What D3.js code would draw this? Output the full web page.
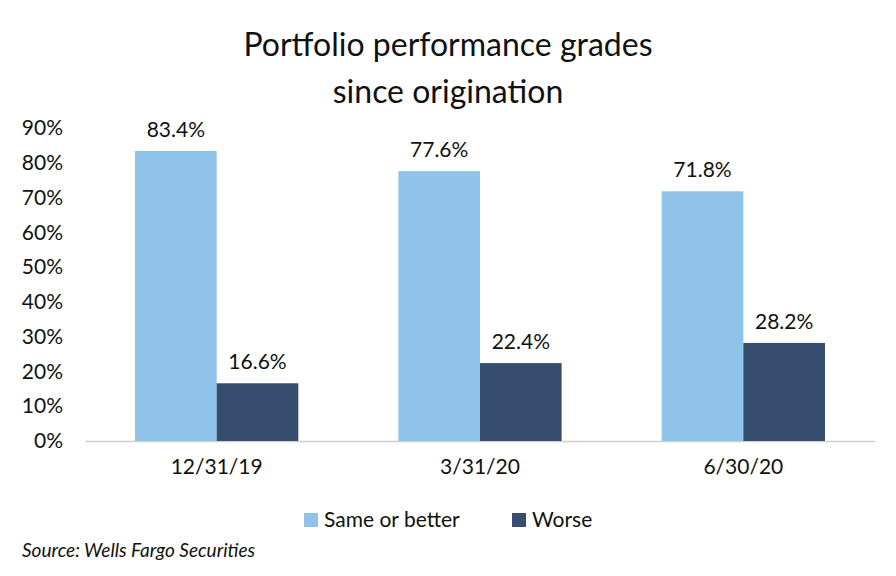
<!DOCTYPE html>
<html><head><meta charset="utf-8">
<script src="https://cdn.jsdelivr.net/npm/d3@7"></script>
<style>body{margin:0;background:#fff;font-family:Lato,"Open Sans",sans-serif;}</style>
</head><body>
<svg id="chart" width="896" height="576"></svg>
<script>
var categories = ["12/31/19", "3/31/20", "6/30/20"];
var seriesNames = ["Same or better", "Worse"];
var sameOrBetter = [83.4, 77.6, 71.8];
var worse = [16.6, 22.4, 28.2];
var yTicks = [0, 10, 20, 30, 40, 50, 60, 70, 80, 90];
var colors = ["#8fc3ea", "#374d6e"];

var svg = d3.select("#chart");
var plotLeft = 85, plotRight = 875, plotTop = 128, plotBottom = 441;

var x = d3.scaleBand().domain(categories).range([plotLeft, plotRight]).paddingInner(0.38).paddingOuter(0.19);
var xs = d3.scaleBand().domain(seriesNames).range([0, x.bandwidth()]);
var y = d3.scaleLinear().domain([0, 90]).range([plotBottom, plotTop]);

svg.append("text").attr("x", 448).attr("y", 56).attr("text-anchor", "middle")
    .attr("font-size", 32).attr("fill", "#111").text("Portfolio performance grades");
svg.append("text").attr("x", 448).attr("y", 103).attr("text-anchor", "middle")
    .attr("font-size", 32).attr("fill", "#111").text("since origination");

var yAxis = svg.append("g").attr("transform", "translate(" + plotLeft + ",0)")
    .call(d3.axisLeft(y).tickValues(yTicks).tickFormat(d => d + "%").tickSize(0).tickPadding(22));
yAxis.select(".domain").remove();
yAxis.selectAll("text").attr("font-size", 21).attr("fill", "#111").attr("font-family", "Lato");

var xAxis = svg.append("g").attr("transform", "translate(0," + plotBottom + ")")
    .call(d3.axisBottom(x).tickSize(0).tickPadding(18));
xAxis.select(".domain").attr("stroke", "#d0d0d0").attr("stroke-width", 1.5);
xAxis.selectAll("text").attr("font-size", 21).attr("fill", "#111").attr("font-family", "Lato");

var data = [];
categories.forEach((c, i) => {
    data.push({ cat: c, s: seriesNames[0], v: sameOrBetter[i], col: colors[0] });
    data.push({ cat: c, s: seriesNames[1], v: worse[i], col: colors[1] });
});

svg.selectAll("rect.bar").data(data).enter().append("rect")
    .attr("x", d => x(d.cat) + xs(d.s)).attr("width", xs.bandwidth())
    .attr("y", d => y(d.v)).attr("height", d => plotBottom - y(d.v)).attr("fill", d => d.col);

svg.selectAll("text.lbl").data(data).enter().append("text")
    .attr("x", d => x(d.cat) + xs(d.s) + xs.bandwidth() / 2).attr("y", d => y(d.v) - 14)
    .attr("text-anchor", "middle").attr("font-size", 21).attr("fill", "#111")
    .text(d => d.v.toFixed(1) + "%");

var leg = [{ n: seriesNames[0], c: colors[0], x: 304 }, { n: seriesNames[1], c: colors[1], x: 512 }];
leg.forEach(l => {
    svg.append("rect").attr("x", l.x).attr("y", 513).attr("width", 14).attr("height", 14).attr("fill", l.c);
    svg.append("text").attr("x", l.x + 20).attr("y", 527).attr("font-size", 21).attr("fill", "#111").text(l.n);
});

svg.append("text").attr("x", 22).attr("y", 557).attr("font-size", 19).attr("font-style", "italic")
    .attr("fill", "#111").text("Source: Wells Fargo Securities");
</script>
</body></html>
